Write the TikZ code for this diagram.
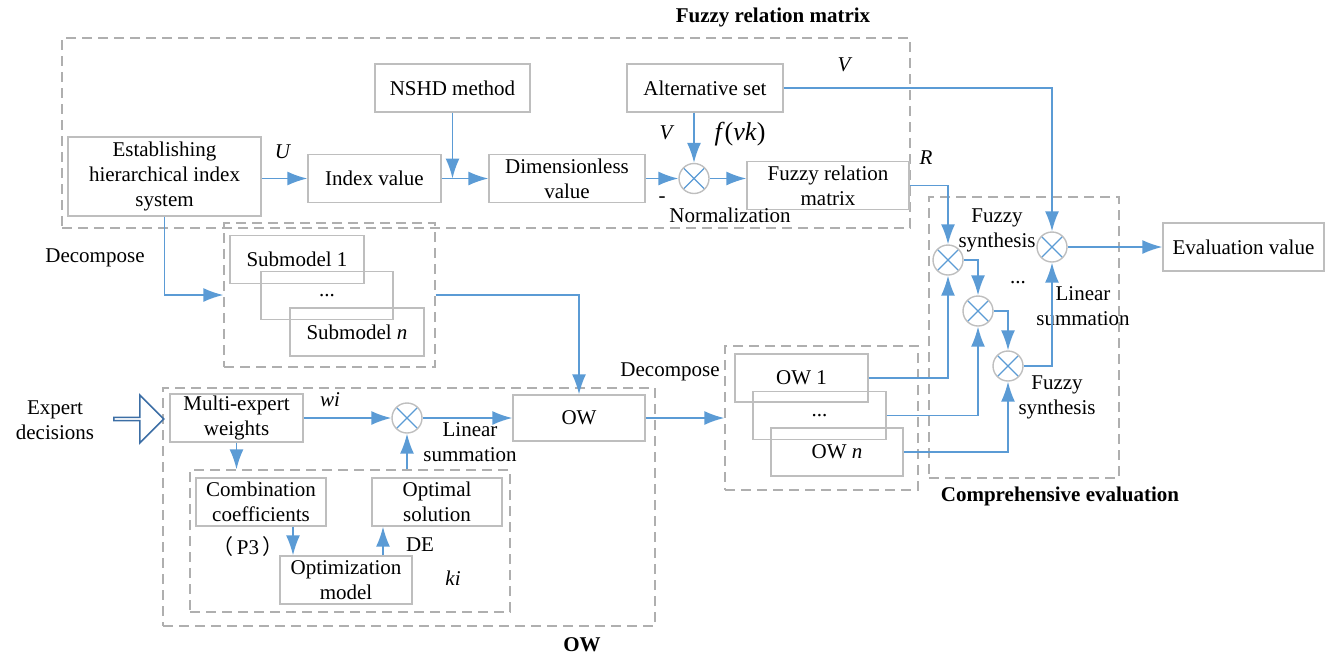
\documentclass[tikz,border=0pt]{standalone}
\usepackage{fontspec}
\setmainfont{Liberation Serif}
\newfontfamily\cjk{Noto Sans CJK SC}
\usetikzlibrary{arrows.meta,shapes.arrows}
\definecolor{flowblue}{RGB}{91,155,213}
\definecolor{boxgray}{RGB}{190,190,190}
\definecolor{grpgray}{RGB}{175,175,175}
\definecolor{arrowblue}{RGB}{60,110,165}

\begin{document}
\begin{tikzpicture}[x=0.5pt,y=-0.5pt,font=\fontsize{10.5}{12.5}\selectfont,
  >={Latex[length=10pt,width=7pt]},
  box/.style={draw=boxgray, line width=0.7pt, align=center, inner sep=1pt, minimum height=24pt},
  grp/.style={draw=grpgray, dash pattern=on 5pt off 3pt, line width=0.7pt, inner sep=0pt},
  mult/.style={circle, draw=boxgray, line width=0.7pt, minimum size=15pt, inner sep=0pt,
    path picture={\draw[flowblue, line width=0.6pt]
      (path picture bounding box.north west) -- (path picture bounding box.south east)
      (path picture bounding box.north east) -- (path picture bounding box.south west);}},
  flow/.style={->, flowblue, line width=0.8pt},
  lbl/.style={inner sep=0pt, align=center},
  ttl/.style={inner sep=0pt, font=\fontsize{10.5}{12.5}\selectfont\bfseries}]

\useasboundingbox (0,0) rectangle (1333,660);

% groups
\node[grp, minimum width=424pt, minimum height=95pt] (gfrm) at (486,133) {};
\node[grp, minimum width=105.5pt, minimum height=72pt] (gsub) at (329.5,295) {};
\node[grp, minimum width=246pt, minimum height=119pt] (gow) at (409,507) {};
\node[grp, minimum width=160pt, minimum height=71pt] (gopt) at (350,541) {};
\node[grp, minimum width=96.5pt, minimum height=72pt] (gown) at (821.5,418) {};
\node[grp, minimum width=95pt, minimum height=140.5pt] (gcomp) at (1024,337.5) {};

\node[ttl] (tfrm) at (773,17) {Fuzzy relation matrix};
\node[ttl] (tcomp) at (1060,496) {Comprehensive evaluation};
\node[ttl] (tow) at (582,645) {OW};

% boxes
\node[box, minimum width=96.5pt, minimum height=39.5pt] (est) at (164.5,176.5) {Establishing\\hierarchical index\\system};
\node[box, minimum width=66.5pt] (idx) at (374.5,178.5) {Index value};
\node[box, minimum width=77.5pt] (nshd) at (452.5,88) {NSHD method};
\node[box, minimum width=78pt] (dim) at (567,178.5) {Dimensionless\\value};
\node[box, minimum width=78pt] (alt) at (705,88) {Alternative set};
\node[box, minimum width=81pt] (frm) at (828,185.5) {Fuzzy relation\\matrix};
\node[box, minimum width=80.5pt] (eval) at (1243.5,247) {Evaluation value};

\node[box, minimum width=67pt] (sub1) at (297,259.5) {Submodel 1};
\node[box, minimum width=66pt] (subd) at (327,295.5) {...};
\node[box, minimum width=67pt] (subn) at (357,332) {Submodel \textit{n}};

\node[box, minimum width=66.5pt] (ow1) at (801.5,378) {OW 1};
\node[box, minimum width=66.5pt] (owd) at (819.5,415.5) {...};
\node[box, minimum width=66pt] (own) at (837,452) {OW \textit{n}};

\node[box, minimum width=66.5pt, minimum height=23pt] (mew) at (236.5,418) {Multi-expert\\weights};
\node[box, minimum width=66pt, minimum height=23pt] (ow) at (579,418) {OW};
\node[box, minimum width=65pt] (comb) at (261,502) {Combination\\coefficients};
\node[box, minimum width=65pt] (opt) at (437,502) {Optimal\\solution};
\node[box, minimum width=66pt] (optm) at (346,580) {Optimization\\model};

\node[single arrow, draw=arrowblue, line width=0.8pt, minimum height=25pt, minimum width=24pt,
  single arrow head extend=5.5pt, single arrow tip angle=90, inner sep=0pt] (exp) at (138,419) {};
\node[lbl] (expt) at (55,420) {Expert\\decisions};

% multipliers
\node[mult] (onorm) at (694,178.5) {};
\node[mult] (omix) at (407,418) {};
\node[mult] (oc1) at (948,260) {};
\node[mult] (oc2) at (978,311) {};
\node[mult] (oc3) at (1008,366) {};
\node[mult] (oc4) at (1052,247) {};

% labels
\node[lbl] (lu) at (283,152) {\textit{U}};
\node[lbl] (lv1) at (667,133) {\textit{V}};
\node[lbl, font=\fontsize{13}{15}\selectfont] (lf) at (740,134) {\textit{f}(\textit{vk})};
\node[lbl] (lv2) at (845,65) {\textit{V}};
\node[lbl] (lr) at (926,158) {\textit{R}};
\node[lbl] (lneg) at (662,200) {-};
\node[lbl] (lnorm) at (730,215) {Normalization};
\node[lbl] (ldec1) at (95,258) {Decompose};
\node[lbl] (ldec2) at (670,372) {Decompose};
\node[lbl] (lwi) at (330,400) {\textit{wi}};
\node[lbl] (lsum1) at (470,442) {Linear\\summation};
\node[lbl] (lp3) at (248,547) {{\cjk （}\,P3\,{\cjk ）}};
\node[lbl] (lde) at (420,545) {DE};
\node[lbl] (lki) at (453,578) {\textit{ki}};
\node[lbl] (lfs1) at (997,230) {Fuzzy\\synthesis};
\node[lbl] (ldots) at (1018,283) {...};
\node[lbl] (lsum2) at (1083,306) {Linear\\summation};
\node[lbl] (lfs2) at (1057,397) {Fuzzy\\synthesis};

% connectors
\draw[flow] (est.east |- idx.west) -- (idx.west);
\draw[flow] (idx.east) -- (dim.west);
\draw[flow] (nshd.south) -- (nshd.south |- idx.east);
\draw[flow] (dim.east) -- (onorm.west);
\draw[flow] (onorm |- alt.south) -- (onorm.north);
\draw[flow] (onorm.east) -- (frm.west |- onorm.east);
\draw[flow] (alt.east) -| (oc4.north);
\draw[flow] (frm.east) -| (oc1.north);
\draw[flow] (oc1.east) -| (oc2.north);
\draw[flow] (oc2.east) -| (oc3.north);
\draw[flow] (oc3.east) -| (oc4.south);
\draw[flow] (oc4.east) -- (eval.west);
\draw[flow] (ow1.east) -| (oc1.south);
\draw[flow] (owd.east) -| (oc2.south);
\draw[flow] (own.east) -| (oc3.south);

\draw[flow] (est.south) |- (gsub.west);
\draw[flow] (gsub.east) -| (ow.north);
\draw[flow] (ow.east) -- (gown.west);
\draw[flow] (mew.east) -- (omix.west);
\draw[flow] (omix.east) -- (ow.west);
\draw[flow] (mew.south) -- (mew.south |- gopt.north);
\draw[flow] ([xshift=16pt]comb.south) -- ([xshift=16pt]comb.south |- optm.north);
\draw[flow] ([xshift=18.5pt]optm.north) -- ([xshift=18.5pt]optm.north |- opt.south);
\draw[flow] (omix.south |- gopt.north) -- (omix.south);

\end{tikzpicture}
\end{document}
